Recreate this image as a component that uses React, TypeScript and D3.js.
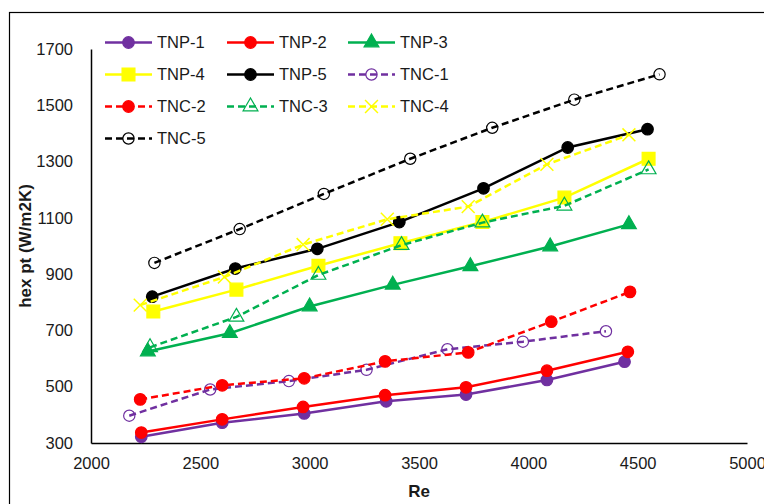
import React, { useEffect, useRef } from "react";
import * as d3 from "d3";

// values
const xTicks = [2000, 2500, 3000, 3500, 4000, 4500, 5000];
const yTicks = [300, 500, 700, 900, 1100, 1300, 1500, 1700];

const seriesNames = ["TNP-1", "TNP-2", "TNP-3", "TNP-4", "TNP-5", "TNC-1", "TNC-2", "TNC-3", "TNC-4", "TNC-5"];

const tnp1Re = [2230, 2600, 2975, 3350, 3715, 4085, 4440];
const tnp1H = [322, 372, 405, 448, 472, 524, 589];
const tnp2Re = [2230, 2600, 2970, 3345, 3715, 4085, 4455];
const tnp2H = [337, 384, 428, 470, 498, 557, 624];
const tnp3Re = [2260, 2635, 3000, 3380, 3735, 4100, 4460];
const tnp3H = [625, 690, 785, 862, 928, 998, 1077];
const tnp4Re = [2285, 2665, 3040, 3415, 3790, 4165, 4550];
const tnp4H = [767, 845, 930, 1010, 1085, 1172, 1310];
const tnp5Re = [2280, 2660, 3035, 3410, 3795, 4180, 4545];
const tnp5H = [820, 920, 990, 1085, 1205, 1350, 1415];
const tnc1Re = [2175, 2545, 2905, 3260, 3630, 3975, 4355];
const tnc1H = [397, 490, 520, 560, 633, 660, 697];
const tnc2Re = [2225, 2600, 2975, 3345, 3725, 4105, 4465];
const tnc2H = [455, 505, 530, 590, 622, 731, 837];
const tnc3Re = [2270, 2665, 3040, 3420, 3790, 4165, 4550];
const tnc3H = [640, 748, 897, 1003, 1083, 1143, 1272];
const tnc4Re = [2225, 2610, 2970, 3355, 3725, 4085, 4460];
const tnc4H = [790, 890, 1005, 1095, 1140, 1290, 1395];
const tnc5Re = [2290, 2680, 3065, 3460, 3835, 4210, 4600];
const tnc5H = [940, 1060, 1185, 1310, 1420, 1520, 1610];

const reValues = [tnp1Re, tnp2Re, tnp3Re, tnp4Re, tnp5Re, tnc1Re, tnc2Re, tnc3Re, tnc4Re, tnc5Re];
const hValues = [tnp1H, tnp2H, tnp3H, tnp4H, tnp5H, tnc1H, tnc2H, tnc3H, tnc4H, tnc5H];

// look of each series (kept apart from the values)
const PURPLE = "#7030a0";
const RED = "#ff0000";
const GREEN = "#00b050";
const YELLOW = "#ffff00";
const BLACK = "#000000";

const styles = [
  { color: PURPLE, dashed: false, symbol: d3.symbolCircle, size: 105, fill: true },
  { color: RED, dashed: false, symbol: d3.symbolCircle, size: 105, fill: true },
  { color: GREEN, dashed: false, symbol: d3.symbolTriangle, size: 95, fill: true },
  { color: YELLOW, dashed: false, symbol: d3.symbolSquare, size: 165, fill: true },
  { color: BLACK, dashed: false, symbol: d3.symbolCircle, size: 105, fill: true },
  { color: PURPLE, dashed: true, symbol: d3.symbolCircle, size: 100, fill: false },
  { color: RED, dashed: true, symbol: d3.symbolCircle, size: 105, fill: true },
  { color: GREEN, dashed: true, symbol: d3.symbolTriangle, size: 95, fill: false },
  { color: YELLOW, dashed: true, symbol: d3.symbolX, size: 110, fill: false },
  { color: BLACK, dashed: true, symbol: d3.symbolCircle, size: 100, fill: false },
];

const FONT = "'Liberation Sans', Arial, sans-serif";
const TEXT = "#1a1a1a";

const App = () => {
  const ref = useRef<SVGSVGElement | null>(null);
  const width = 764;
  const height = 504;

  useEffect(() => {
    const svg = d3.select(ref.current);
    svg.selectAll("*").remove();

    // outer chart frame (runs off the right and bottom of the picture)
    svg
      .append("rect")
      .attr("x", 9.5)
      .attr("y", 12.5)
      .attr("width", 800)
      .attr("height", 600)
      .attr("fill", "#fff")
      .attr("stroke", "#000")
      .attr("stroke-width", 1.2);

    const xScale = d3.scaleLinear().domain([2000, 5000]).range([91, 747]);
    const yScale = d3.scaleLinear().domain([300, 1700]).range([443, 49]);

    // x axis
    const gx = svg
      .append("g")
      .attr("transform", `translate(0,${yScale(300)})`)
      .call(
        d3
          .axisBottom(xScale)
          .tickValues(xTicks)
          .tickSize(0)
          .tickPadding(14)
          .tickFormat(d3.format("d"))
      );
    gx.select(".domain").attr("stroke", "#000").attr("stroke-width", 1.5);
    gx.selectAll("text").attr("font-family", FONT).attr("font-size", 16.5).attr("fill", TEXT);

    // y axis
    const gy = svg
      .append("g")
      .attr("transform", `translate(${xScale(2000)},0)`)
      .call(
        d3
          .axisLeft(yScale)
          .tickValues(yTicks)
          .tickSize(0)
          .tickPadding(18)
          .tickFormat(d3.format("d"))
      );
    gy.select(".domain").attr("stroke", "#000").attr("stroke-width", 1.5);
    gy.selectAll("text").attr("font-family", FONT).attr("font-size", 16.5).attr("fill", TEXT);

    // axis titles
    svg
      .append("text")
      .attr("x", 419)
      .attr("y", 497)
      .attr("text-anchor", "middle")
      .attr("font-family", FONT)
      .attr("font-weight", "bold")
      .attr("font-size", 17)
      .attr("fill", TEXT)
      .text("Re");

    svg
      .append("text")
      .attr("transform", "translate(31,246) rotate(-90)")
      .attr("text-anchor", "middle")
      .attr("font-family", FONT)
      .attr("font-weight", "bold")
      .attr("font-size", 17)
      .attr("fill", TEXT)
      .text("hex pt (W/m2K)");

    const line = d3
      .line<[number, number]>()
      .x((d) => xScale(d[0]))
      .y((d) => yScale(d[1]));

    const drawMarker = (g, s, x, y) => {
      const stroked = s.symbol === d3.symbolX;
      g.append("path")
        .attr("d", d3.symbol().type(s.symbol).size(s.size)())
        .attr("transform", `translate(${x},${y})`)
        .attr("fill", s.fill ? s.color : "none")
        .attr("stroke", s.color)
        .attr("stroke-width", stroked ? 1.5 : 1.2);
    };

    // series
    seriesNames.forEach((name, i) => {
      const s = styles[i];
      const pts: [number, number][] = reValues[i].map((r, j) => [r, hValues[i][j]]);
      const g = svg.append("g").attr("class", "series");
      g.append("path")
        .datum(pts)
        .attr("fill", "none")
        .attr("stroke", s.color)
        .attr("stroke-width", 2.5)
        .attr("stroke-dasharray", s.dashed ? "7,4" : null)
        .attr("d", line);
      pts.forEach((p) => drawMarker(g, s, xScale(p[0]), yScale(p[1])));
    });

    // legend, 3 columns
    const legendX = [105, 227, 348];
    const legendY = [42.5, 74.5, 106.5, 138.5];
    seriesNames.forEach((name, i) => {
      const s = styles[i];
      const lx = legendX[i % 3];
      const ly = legendY[Math.floor(i / 3)];
      const g = svg.append("g").attr("class", "legend-item");
      g.append("line")
        .attr("x1", lx)
        .attr("x2", lx + 47)
        .attr("y1", ly)
        .attr("y2", ly)
        .attr("stroke", s.color)
        .attr("stroke-width", 2.5)
        .attr("stroke-dasharray", s.dashed ? "7,4" : null);
      drawMarker(g, s, lx + 23.5, ly);
      g.append("text")
        .attr("x", lx + 52)
        .attr("y", ly)
        .attr("dy", "0.36em")
        .attr("font-family", FONT)
        .attr("font-size", 16.5)
        .attr("fill", TEXT)
        .text(name);
    });
  }, []);

  return (
    <svg
      ref={ref}
      width={width}
      height={height}
      style={{ position: "absolute", left: 0, top: 0, background: "#fff" }}
    />
  );
};

export default App;
